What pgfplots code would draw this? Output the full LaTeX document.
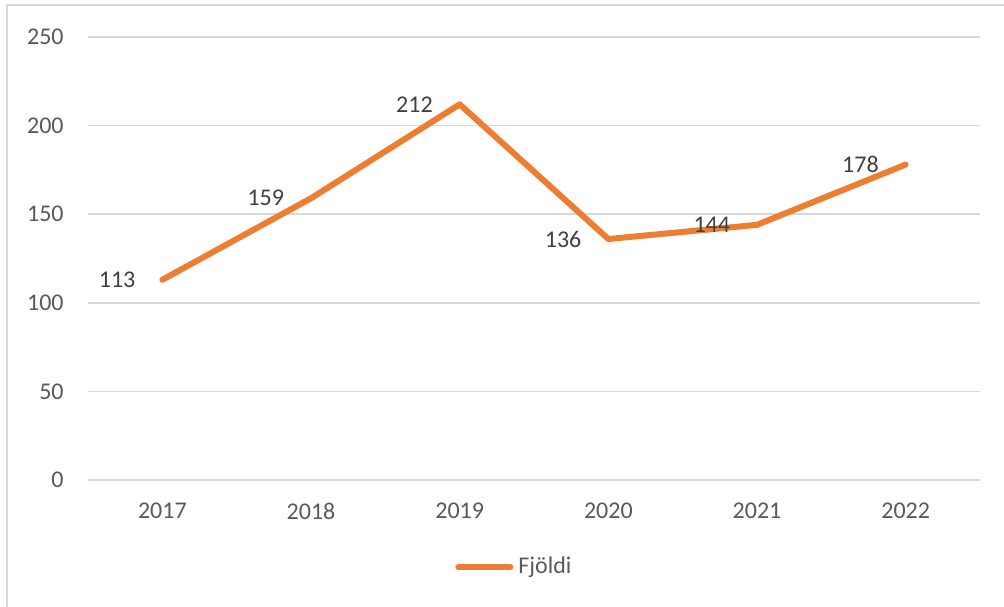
\documentclass[border=0pt]{standalone}
\usepackage{fontspec}
\setmainfont{Carlito}
\usepackage{pgfplots}
\pgfplotsset{compat=1.18}
\definecolor{lineorange}{HTML}{ED7D31}
\definecolor{gridgray}{HTML}{D9D9D9}
\definecolor{ticktext}{HTML}{595959}
\definecolor{labeltext}{HTML}{404040}
\begin{document}
\begin{tikzpicture}
\path[use as bounding box] (0,0) rectangle (502pt,303pt);
\draw[gridgray, line width=1pt] (3.5pt,-10pt) -- (3.5pt,300.5pt) -- (520pt,300.5pt);
\begin{axis}[
  at={(44pt,63pt)}, anchor=south west,
  scale only axis, width=446pt, height=221.5pt,
  xmin=-0.5, xmax=5.5, ymin=0, ymax=250,
  xtick={0,1,2,3,4,5},
  xticklabels={2017,2018,2019,2020,2021,2022},
  ytick={0,50,100,150,200,250},
  axis line style={draw=none},
  major tick length=0pt,
  ymajorgrids, grid style={gridgray, line width=0.75pt},
  tick label style={font=\fontsize{12}{14}\selectfont, text=ticktext, inner sep=0pt},
  yticklabel style={xshift=-12pt},
  xticklabel style={yshift=-11.5pt},
  /pgf/number format/assume math mode=true,
  nodes near coords,
  every node near coord/.append style={anchor=east, xshift=-12pt, yshift=0pt, inner sep=0pt,
    font=\fontsize{12}{14}\selectfont, text=labeltext},
  legend style={at={(0.4114,-0.1964)}, anchor=west, draw=none, fill=none, inner sep=0pt,
    font=\fontsize{12}{14}\selectfont, text=ticktext,
    nodes={inner sep=0pt}, column sep=0pt},
  legend image code/.code={\draw[#1, line width=3pt, line cap=round] (1.5pt,0pt) -- (27.5pt,0pt);},
]
\addplot[lineorange, line width=3pt, line join=round, line cap=round, mark=none]
  coordinates {(0,113) (1,159) (2,212) (3,136) (4,144) (5,178)};
\addlegendentry{\hspace{2.5pt}Fjöldi}
\end{axis}
\end{tikzpicture}
\end{document}
